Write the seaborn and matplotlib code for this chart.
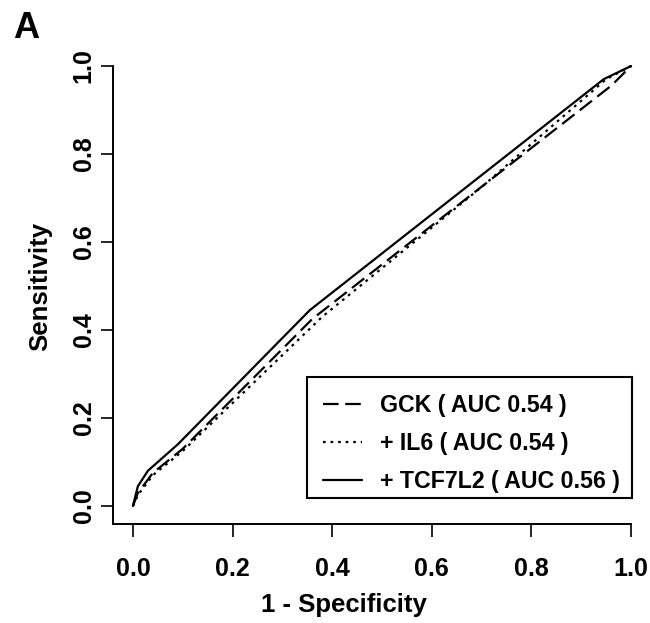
import matplotlib
matplotlib.use("Agg")
import matplotlib.pyplot as plt
from matplotlib.patches import Rectangle
import seaborn as sns
import pandas as pd

# ROC curve data (1 - specificity, sensitivity)
gck_fpr = [0.0, 0.01, 0.04, 0.10, 0.36, 0.62, 0.96, 1.0]
gck_tpr = [0.0, 0.03, 0.075, 0.13, 0.425, 0.655, 0.955, 1.0]
il6_fpr = [0.0, 0.01, 0.04, 0.10, 0.38, 0.70, 0.95, 1.0]
il6_tpr = [0.0, 0.025, 0.07, 0.125, 0.43, 0.725, 0.97, 1.0]
tcf_fpr = [0.0, 0.01, 0.03, 0.09, 0.355, 0.945, 1.0]
tcf_tpr = [0.0, 0.045, 0.08, 0.14, 0.445, 0.97, 1.0]
labels = ["GCK ( AUC 0.54 )", "+ IL6 ( AUC 0.54 )", "+ TCF7L2 ( AUC 0.56 )"]
ticks = [0.0, 0.2, 0.4, 0.6, 0.8, 1.0]
tick_labels = ["0.0", "0.2", "0.4", "0.6", "0.8", "1.0"]

sns.set_style("ticks")
plt.rcParams["font.family"] = ["Liberation Sans", "DejaVu Sans"]
plt.rcParams["font.weight"] = "bold"
plt.rcParams["text.color"] = "black"
plt.rcParams["axes.labelcolor"] = "black"
plt.rcParams["xtick.color"] = "black"
plt.rcParams["ytick.color"] = "black"
plt.rcParams["axes.edgecolor"] = "black"

fig = plt.figure(figsize=(6.5, 6.23), dpi=100)
ax = fig.add_axes([113 / 650, 1 - 523.6 / 623, 538 / 650, 475.2 / 623])

series = [
    (gck_fpr, gck_tpr, labels[0], (0, (7, 3))),
    (il6_fpr, il6_tpr, labels[1], (0, (1.2, 2.2))),
    (tcf_fpr, tcf_tpr, labels[2], "-"),
]
for fx, ty, lab, ls in series:
    df = pd.DataFrame({"fpr": fx, "tpr": ty})
    sns.lineplot(data=df, x="fpr", y="tpr", sort=False, estimator=None,
                 color="black", linewidth=1.6, linestyle=ls, label=lab, ax=ax)

ax.set_xlim(-0.04, 1.04)
ax.set_ylim(-0.04, 1.04)
ax.set_xticks(ticks)
ax.set_xticklabels(tick_labels)
ax.set_yticks(ticks)
ax.set_yticklabels(tick_labels, rotation=90, va="center")
ax.tick_params(axis="both", direction="out", length=9, width=1.2, colors="black",
               labelsize=18)
ax.tick_params(axis="x", pad=15)
ax.tick_params(axis="y", pad=3.5)
for lab in ax.get_xticklabels() + ax.get_yticklabels():
    lab.set_fontweight("bold")
    lab.set_color("black")

for s in ["top", "right"]:
    ax.spines[s].set_visible(False)
for s in ["left", "bottom"]:
    ax.spines[s].set_linewidth(1.4)
    ax.spines[s].set_color("black")
ax.spines["left"].set_bounds(-0.04, 1.0)
ax.spines["bottom"].set_bounds(-0.04, 1.0)

ax.set_xlabel("1 - Specificity", fontsize=18.5, fontweight="bold", color="black")
ax.set_ylabel("Sensitivity", fontsize=18.5, fontweight="bold", color="black")
ax.xaxis.set_label_coords(0.43, -0.145)
ax.yaxis.set_label_coords(-0.113, 0.5)

# legend entries (no frame) + R-style box drawn separately
leg = ax.legend(loc="lower left", bbox_to_anchor=(0.3903, 0.0636),
                fontsize=16.7, frameon=False, handlelength=1.68,
                handletextpad=0.78, labelspacing=0.66, borderpad=0.0,
                borderaxespad=0.0)
for t in leg.get_texts():
    t.set_fontweight("bold")
    t.set_color("black")
ax.add_patch(Rectangle((0.3606, 0.0539), 0.9647 - 0.3606, 0.3085 - 0.0539,
                       transform=ax.transAxes, fill=False, edgecolor="black",
                       linewidth=1.5, zorder=5))

fig.text(0.02, 0.982, "A", fontsize=26, fontweight="bold", va="top", ha="left",
         color="black")

fig.savefig("out.png", dpi=100)
